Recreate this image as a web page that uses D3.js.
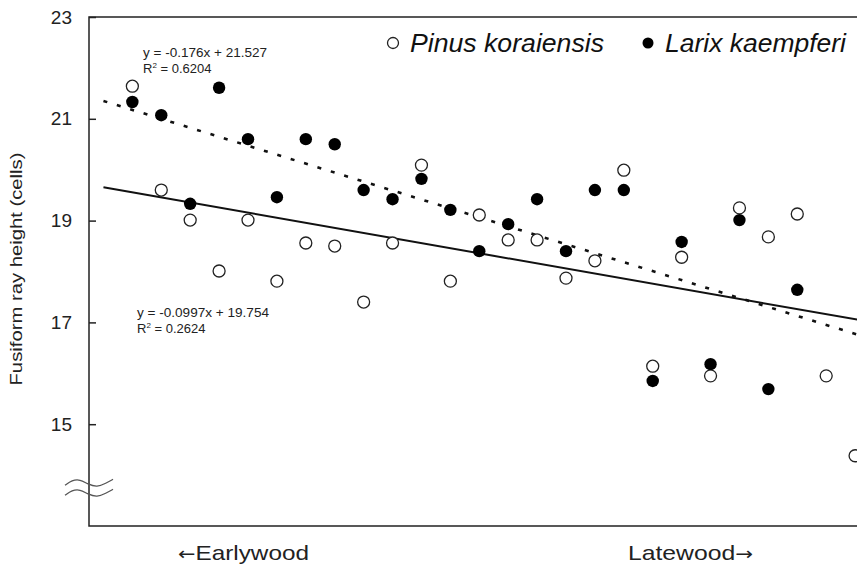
<!DOCTYPE html>
<html>
<head>
<meta charset="utf-8">
<script src="https://cdn.jsdelivr.net/npm/d3@7"></script>
<style>
  body { margin: 0; background: #fff; }
  svg { display: block; font-family: 'Liberation Sans', Arial, sans-serif; }
</style>
</head>
<body>
<div id="chart"></div>
<script>
// position along the ring (earlywood -> latewood)
const positions = [2, 3, 4, 5, 6, 7, 8, 9, 10, 11, 12, 13, 14, 15, 16, 17, 18, 19, 20, 21, 22, 23, 24, 25, 26, 27];
// Pinus koraiensis (open circles)
const pinus = [21.64, 19.60, 19.01, 18.01, 19.01, 17.81, 18.56, 18.50, 17.40, 18.56, 20.09, 17.81, 19.11,
  18.62, 18.62, 17.87, 18.21, 19.99, 16.14, 18.28, 15.95, 19.25, 18.68, 19.13, 15.95, 14.38];
// Larix kaempferi (filled circles)
const larix = [21.33, 21.07, 19.33, 21.61, 20.60, 19.46, 20.60, 20.50, 19.60, 19.42, 19.82, 19.21, 18.40,
  18.93, 19.42, 18.40, 19.60, 19.60, 15.85, 18.58, 16.18, 19.01, 15.69, 17.64, null, null];
const yTicks = [15, 17, 19, 21, 23];
// trend lines as printed on the chart
const larixFit = [-0.176, 21.527];
const pinusFit = [-0.0997, 19.754];
const larixLabel = ['y = -0.176x + 21.527', '0.6204'];
const pinusLabel = ['y = -0.0997x + 19.754', '0.2624'];

const width = 857, height = 566;
const m = {left: 89, top: 17, bottom: 526, right: 884};

const svg = d3.select('#chart').append('svg')
  .attr('width', width)
  .attr('height', height);

const xScale = d3.scaleLinear().domain([0.5, 28]).range([m.left, m.right]);
const yScale = d3.scaleLinear().domain([13, 23]).range([m.bottom, m.top]);

svg.append('clipPath').attr('id', 'plot')
  .append('rect')
  .attr('x', m.left).attr('y', m.top)
  .attr('width', m.right - m.left).attr('height', m.bottom - m.top);

// frame: top, left, bottom
svg.append('path')
  .attr('d', `M${m.right},${m.top}H${m.left}V${m.bottom}H${m.right}`)
  .attr('fill', 'none')
  .attr('stroke', '#222')
  .attr('stroke-width', 1.5);

// y axis, ticks pointing inward
const yAxis = d3.axisLeft(yScale)
  .tickValues(yTicks)
  .tickSizeInner(-7)
  .tickSizeOuter(0)
  .tickPadding(17);

const gy = svg.append('g')
  .attr('transform', `translate(${m.left},0)`)
  .call(yAxis);
gy.select('.domain').remove();
gy.selectAll('.tick line').attr('stroke', '#222').attr('stroke-width', 1.5);
gy.selectAll('.tick text')
  .attr('fill', '#222')
  .style('font-size', '19px')
  .style('font-family', "'Liberation Sans', Arial, sans-serif");

// axis break marks
const wave = d3.line().curve(d3.curveBasis);
[0, 10].forEach(dy => {
  const y0 = yScale(13.8) + dy;
  svg.append('path')
    .attr('d', wave([[65, y0], [72, y0 - 5], [80, y0 - 6], [88, y0 - 1], [97, y0 + 2], [106, y0 - 2], [113, y0 - 6]]))
    .attr('fill', 'none')
    .attr('stroke', '#555')
    .attr('stroke-width', 1.3);
});

// trend lines
const line = d3.line().x(d => xScale(d[0])).y(d => yScale(d[1]));
const fitPoints = f => [1, 28].map(x => [x, f[0] * x + f[1]]);

const plot = svg.append('g').attr('clip-path', 'url(#plot)');

plot.append('path')
  .attr('d', line(fitPoints(pinusFit)))
  .attr('fill', 'none')
  .attr('stroke', '#111')
  .attr('stroke-width', 2);

plot.append('path')
  .attr('d', line(fitPoints(larixFit)))
  .attr('fill', 'none')
  .attr('stroke', '#111')
  .attr('stroke-width', 2.6)
  .attr('stroke-dasharray', '4,10');

// points
const pinusData = positions.map((x, i) => ({x, y: pinus[i]})).filter(d => d.y != null);
const larixData = positions.map((x, i) => ({x, y: larix[i]})).filter(d => d.y != null);

svg.append('g').selectAll('circle')
  .data(pinusData)
  .enter().append('circle')
  .attr('cx', d => xScale(d.x))
  .attr('cy', d => yScale(d.y))
  .attr('r', 6)
  .attr('fill', '#fff')
  .attr('stroke', '#222')
  .attr('stroke-width', 1.3);

svg.append('g').selectAll('circle')
  .data(larixData)
  .enter().append('circle')
  .attr('cx', d => xScale(d.x))
  .attr('cy', d => yScale(d.y))
  .attr('r', 6.2)
  .attr('fill', '#000');

// equations
function equation(x, y, lab, len) {
  const g = svg.append('g').attr('fill', '#222').style('font-size', '13px');
  g.append('text').attr('x', x).attr('y', y)
    .attr('textLength', len).attr('lengthAdjust', 'spacingAndGlyphs')
    .text(lab[0]);
  const r = g.append('text').attr('x', x).attr('y', y + 16);
  r.append('tspan').text('R');
  r.append('tspan').attr('dy', -5).style('font-size', '8px').text('2');
  r.append('tspan').attr('dy', 5).text(' = ' + lab[1]);
}
equation(143, 57, larixLabel, 124);
equation(137, 317, pinusLabel, 132);

// legend
const legend = svg.append('g').style('font-size', '25px').style('font-style', 'italic').attr('fill', '#111');
legend.append('circle').attr('cx', 393).attr('cy', 43).attr('r', 5.5)
  .attr('fill', '#fff').attr('stroke', '#222').attr('stroke-width', 1.3);
legend.append('text').attr('x', 410).attr('y', 52)
  .attr('textLength', 194).attr('lengthAdjust', 'spacingAndGlyphs')
  .text('Pinus koraiensis');
legend.append('circle').attr('cx', 648).attr('cy', 43).attr('r', 5.5).attr('fill', '#000');
legend.append('text').attr('x', 665).attr('y', 52)
  .attr('textLength', 181).attr('lengthAdjust', 'spacingAndGlyphs')
  .text('Larix kaempferi');

// axis titles
svg.append('text')
  .attr('transform', `translate(22,${(152 + 386) / 2}) rotate(-90)`)
  .attr('text-anchor', 'middle')
  .attr('fill', '#222')
  .style('font-size', '17px')
  .attr('textLength', 233).attr('lengthAdjust', 'spacingAndGlyphs')
  .text('Fusiform ray height (cells)');

const early = svg.append('text')
  .attr('x', 178).attr('y', 560)
  .attr('fill', '#222')
  .style('font-size', '21px')
  .attr('textLength', 131).attr('lengthAdjust', 'spacingAndGlyphs');
early.append('tspan').style('font-family', "'DejaVu Sans', sans-serif").style('font-size', '18px').text('\u2190');
early.append('tspan').text('Earlywood');

const late = svg.append('text')
  .attr('x', 628).attr('y', 560)
  .attr('fill', '#222')
  .style('font-size', '21px')
  .attr('textLength', 125).attr('lengthAdjust', 'spacingAndGlyphs');
late.append('tspan').text('Latewood');
late.append('tspan').style('font-family', "'DejaVu Sans', sans-serif").style('font-size', '18px').text('\u2192');
</script>
</body>
</html>
